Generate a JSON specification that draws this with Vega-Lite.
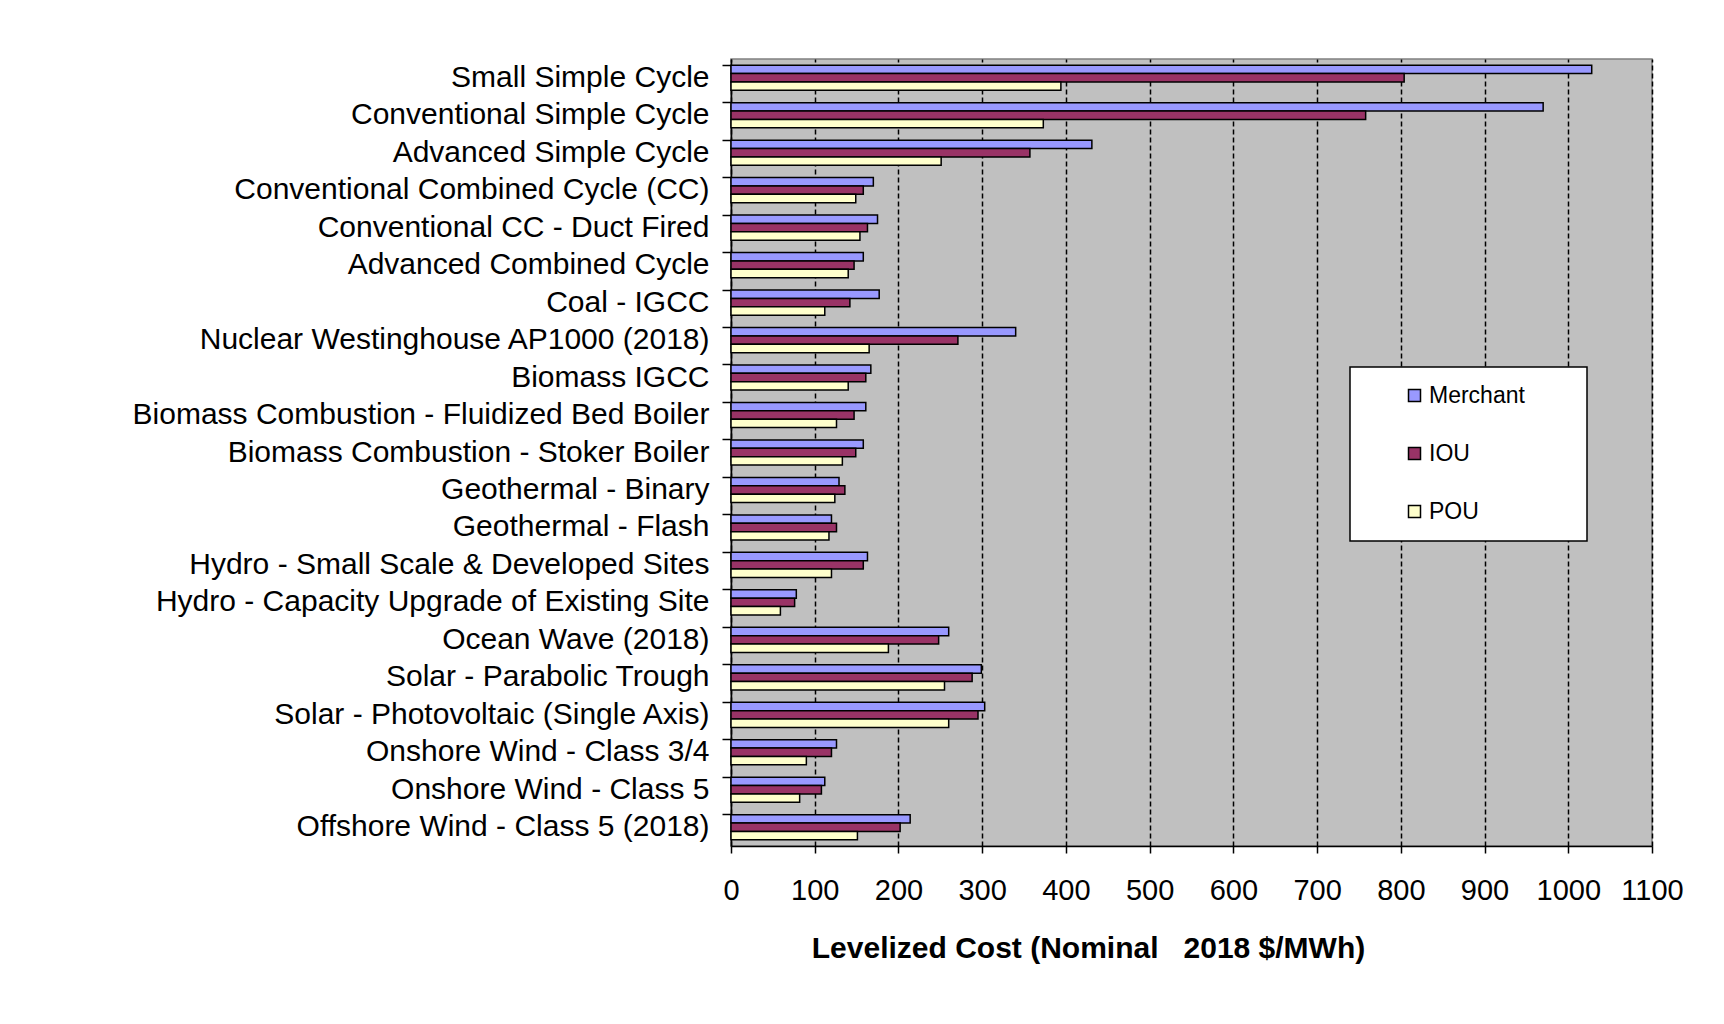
{
  "$schema": "https://vega.github.io/schema/vega-lite/v6.json",
  "width": 921,
  "height": 787,
  "autosize": {"type": "none"},
  "padding": {"left": 731, "top": 59, "right": 72, "bottom": 178},
  "background": "white",
  "config": {
    "font": "Liberation Sans",
    "view": {"fill": "#C0C0C0", "stroke": "#808080", "strokeWidth": 1.5}
  },
  "data": {
    "values": [
      {"tech": "Small Simple Cycle", "series": "Merchant", "cost": 1028},
      {"tech": "Small Simple Cycle", "series": "IOU", "cost": 804},
      {"tech": "Small Simple Cycle", "series": "POU", "cost": 394},
      {"tech": "Conventional  Simple Cycle", "series": "Merchant", "cost": 970},
      {"tech": "Conventional  Simple Cycle", "series": "IOU", "cost": 758},
      {"tech": "Conventional  Simple Cycle", "series": "POU", "cost": 373},
      {"tech": "Advanced Simple Cycle", "series": "Merchant", "cost": 431},
      {"tech": "Advanced Simple Cycle", "series": "IOU", "cost": 357},
      {"tech": "Advanced Simple Cycle", "series": "POU", "cost": 251},
      {"tech": "Conventional  Combined Cycle (CC)", "series": "Merchant", "cost": 170},
      {"tech": "Conventional  Combined Cycle (CC)", "series": "IOU", "cost": 158},
      {"tech": "Conventional  Combined Cycle (CC)", "series": "POU", "cost": 149},
      {"tech": "Conventional CC - Duct Fired", "series": "Merchant", "cost": 175},
      {"tech": "Conventional CC - Duct Fired", "series": "IOU", "cost": 163},
      {"tech": "Conventional CC - Duct Fired", "series": "POU", "cost": 154},
      {"tech": "Advanced Combined Cycle", "series": "Merchant", "cost": 158},
      {"tech": "Advanced Combined Cycle", "series": "IOU", "cost": 147},
      {"tech": "Advanced Combined Cycle", "series": "POU", "cost": 140},
      {"tech": "Coal - IGCC", "series": "Merchant", "cost": 177},
      {"tech": "Coal - IGCC", "series": "IOU", "cost": 142},
      {"tech": "Coal - IGCC", "series": "POU", "cost": 112},
      {"tech": "Nuclear Westinghouse AP1000 (2018)", "series": "Merchant", "cost": 340},
      {"tech": "Nuclear Westinghouse AP1000 (2018)", "series": "IOU", "cost": 271},
      {"tech": "Nuclear Westinghouse AP1000 (2018)", "series": "POU", "cost": 165},
      {"tech": "Biomass IGCC", "series": "Merchant", "cost": 167},
      {"tech": "Biomass IGCC", "series": "IOU", "cost": 161},
      {"tech": "Biomass IGCC", "series": "POU", "cost": 140},
      {"tech": "Biomass Combustion - Fluidized Bed Boiler", "series": "Merchant", "cost": 161},
      {"tech": "Biomass Combustion - Fluidized Bed Boiler", "series": "IOU", "cost": 147},
      {"tech": "Biomass Combustion - Fluidized Bed Boiler", "series": "POU", "cost": 126},
      {"tech": "Biomass Combustion  - Stoker Boiler", "series": "Merchant", "cost": 158},
      {"tech": "Biomass Combustion  - Stoker Boiler", "series": "IOU", "cost": 149},
      {"tech": "Biomass Combustion  - Stoker Boiler", "series": "POU", "cost": 133},
      {"tech": "Geothermal - Binary", "series": "Merchant", "cost": 129},
      {"tech": "Geothermal - Binary", "series": "IOU", "cost": 136},
      {"tech": "Geothermal - Binary", "series": "POU", "cost": 124},
      {"tech": "Geothermal - Flash", "series": "Merchant", "cost": 120},
      {"tech": "Geothermal - Flash", "series": "IOU", "cost": 126},
      {"tech": "Geothermal - Flash", "series": "POU", "cost": 117},
      {"tech": "Hydro - Small Scale & Developed Sites", "series": "Merchant", "cost": 163},
      {"tech": "Hydro - Small Scale & Developed Sites", "series": "IOU", "cost": 158},
      {"tech": "Hydro - Small Scale & Developed Sites", "series": "POU", "cost": 120},
      {"tech": "Hydro - Capacity Upgrade of Existing Site", "series": "Merchant", "cost": 78},
      {"tech": "Hydro - Capacity Upgrade of Existing Site", "series": "IOU", "cost": 76},
      {"tech": "Hydro - Capacity Upgrade of Existing Site", "series": "POU", "cost": 59},
      {"tech": "Ocean Wave (2018)", "series": "Merchant", "cost": 260},
      {"tech": "Ocean Wave (2018)", "series": "IOU", "cost": 248},
      {"tech": "Ocean Wave (2018)", "series": "POU", "cost": 188},
      {"tech": "Solar - Parabolic Trough", "series": "Merchant", "cost": 299},
      {"tech": "Solar - Parabolic Trough", "series": "IOU", "cost": 288},
      {"tech": "Solar - Parabolic Trough", "series": "POU", "cost": 255},
      {"tech": "Solar - Photovoltaic (Single Axis)", "series": "Merchant", "cost": 303},
      {"tech": "Solar - Photovoltaic (Single Axis)", "series": "IOU", "cost": 295},
      {"tech": "Solar - Photovoltaic (Single Axis)", "series": "POU", "cost": 260},
      {"tech": "Onshore Wind - Class 3/4", "series": "Merchant", "cost": 126},
      {"tech": "Onshore Wind - Class 3/4", "series": "IOU", "cost": 120},
      {"tech": "Onshore Wind - Class 3/4", "series": "POU", "cost": 90},
      {"tech": "Onshore Wind - Class 5", "series": "Merchant", "cost": 112},
      {"tech": "Onshore Wind - Class 5", "series": "IOU", "cost": 108},
      {"tech": "Onshore Wind - Class 5", "series": "POU", "cost": 82},
      {"tech": "Offshore Wind - Class 5 (2018)", "series": "Merchant", "cost": 214},
      {"tech": "Offshore Wind - Class 5 (2018)", "series": "IOU", "cost": 202},
      {"tech": "Offshore Wind - Class 5 (2018)", "series": "POU", "cost": 151}
    ]
  },
  "mark": {"type": "bar", "stroke": "black", "strokeWidth": 1.5},
  "encoding": {
    "y": {
      "field": "tech",
      "type": "nominal",
      "sort": null,
      "scale": {"paddingInner": 0.33, "paddingOuter": 0.165},
      "axis": {
        "title": null,
        "bandPosition": 0,
        "domainColor": "black",
        "domainWidth": 1.5,
        "tickColor": "black",
        "tickWidth": 1.5,
        "tickSize": 9,
        "labelPadding": 13,
        "labelFontSize": 30,
        "labelColor": "black",
        "labelLimit": 0,
        "grid": false
      }
    },
    "yOffset": {
      "field": "series",
      "type": "nominal",
      "scale": {"domain": ["Merchant", "IOU", "POU"], "paddingInner": 0, "paddingOuter": 0}
    },
    "x": {
      "field": "cost",
      "type": "quantitative",
      "scale": {"domain": [0, 1100], "nice": false},
      "axis": {
        "values": [0, 100, 200, 300, 400, 500, 600, 700, 800, 900, 1000, 1100],
        "format": "d",
        "labelOverlap": false,
        "labelFlush": false,
        "title": "Levelized Cost (Nominal\u00a0\u00a0\u00a02018 $/MWh)",
        "titleFontSize": 30,
        "titleFontWeight": "bold",
        "titleColor": "black",
        "titleX": 357,
        "titleY": 111,
        "titleBaseline": "alphabetic",
        "domainColor": "black",
        "domainWidth": 1.5,
        "tickColor": "black",
        "tickWidth": 1.5,
        "tickSize": 7,
        "labelPadding": 23,
        "labelFontSize": 29,
        "labelColor": "black",
        "grid": true,
        "gridColor": "black",
        "gridWidth": 1.5,
        "gridDash": [5, 3]
      }
    },
    "fill": {
      "field": "series",
      "type": "nominal",
      "scale": {"domain": ["Merchant", "IOU", "POU"], "range": ["#9999FF", "#993366", "#FFFFCC"]},
      "legend": {
        "title": null,
        "orient": "none",
        "legendX": 619,
        "legendY": 308,
        "padding": 17,
        "fillColor": "white",
        "strokeColor": "black",
        "symbolType": "square",
        "symbolSize": 144,
        "symbolStrokeColor": "black",
        "symbolStrokeWidth": 1.5,
        "symbolOffset": 36,
        "labelFontSize": 23,
        "labelColor": "black",
        "labelOffset": 3,
        "rowPadding": 34,
        "labelExpr": "datum.label + '\u00a0\u00a0\u00a0\u00a0\u00a0\u00a0\u00a0\u200b'",
        "encode": {"legend": {"update": {"strokeWidth": {"value": 1.5}}}}
      }
    }
  }
}
